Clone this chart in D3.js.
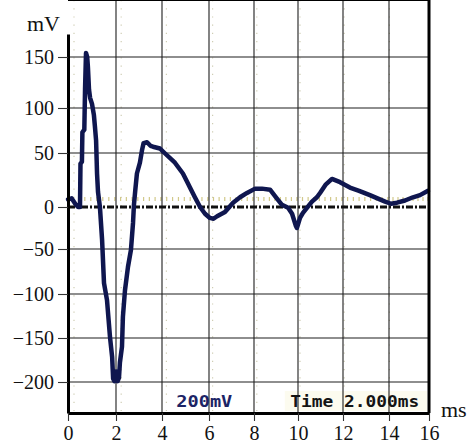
<!DOCTYPE html>
<html>
<head>
<meta charset="utf-8">
<script src="https://cdn.jsdelivr.net/npm/d3@7"></script>
<style>
  body { margin: 0; background: #fff; }
  svg { display: block; }
</style>
</head>
<body>
<script>
/* ---------- data ---------- */
var timeMs = [0, 0.15, 0.3, 0.42, 0.5, 0.52, 0.58, 0.6, 0.68, 0.71, 0.75, 0.8, 0.83, 0.875, 0.92, 1.0,
  1.08, 1.12, 1.17, 1.21, 1.25, 1.33, 1.42, 1.5, 1.625, 1.75, 1.84, 1.88, 1.93, 2.0, 2.07, 2.13,
  2.17, 2.26, 2.3, 2.39, 2.52, 2.65, 2.74, 2.78, 2.84, 2.91, 3.04, 3.13, 3.2, 3.35, 3.5, 3.61,
  3.91, 4.11, 4.55, 4.89, 5.1, 5.19, 5.4, 5.62, 5.83, 6.04, 6.2, 6.36, 6.71, 7.07, 7.38, 7.69,
  8.05, 8.36, 8.73, 9.0, 9.27, 9.55, 9.73, 9.91, 9.95, 10.09, 10.22, 10.62, 10.84, 10.98, 11.24, 11.51,
  11.87, 12.3, 12.7, 13.17, 13.5, 13.83, 14.1, 14.4, 14.8, 15.2, 15.55, 15.95];
var voltage_mV = [7, 8, 3, 0, 0, 40, 42, 73, 76, 118, 154, 150, 140, 118, 110, 104,
  92, 80, 64, 31, 14, 0, -39, -88, -107, -149, -172, -196, -199, -188, -199, -195,
  -178, -160, -126, -96, -70, -51, -19, 2, 16, 31, 41, 53, 61, 62, 58, 57,
  55, 50, 41, 31, 22, 18, 9, 0, -8, -13, -14, -11, -6, 4, 9, 13,
  17, 17, 16, 9, 2, -1, -8, -23, -25, -13, -7, 5, 9, 13, 21, 26,
  23, 18, 15, 11, 8, 5, 3, 4, 6, 9, 11, 15];

var tTicks = [0, 2, 4, 6, 8, 10, 12, 14, 16];
var vTicks = [-200, -150, -100, -50, 0, 50, 100, 150];
var vLimits = [-235, 173];   // bottom / top of the screen

/* ---------- layout ---------- */
var W = 468, H = 443;
// the scanned axes are a little uneven, so the scales follow the printed ticks
var tTickX = [68, 116, 162, 209, 254, 298, 343, 389, 429];
var vTickY = [413, 382, 338, 294, 249, 207, 153, 108, 57, 34];

var x = d3.scaleLinear().domain(tTicks).range(tTickX);
var y = d3.scaleLinear()
  .domain([vLimits[0]].concat(vTicks, [vLimits[1]]))
  .range(vTickY);

var left = x(0), right = x(16), top = y(vLimits[1]), bottom = y(vLimits[0]);

var svg = d3.select("body").append("svg")
  .attr("width", W)
  .attr("height", H);

var serif = "'Liberation Serif', 'Times New Roman', serif";

/* scope graticule: faint dotted lines */
var grat = svg.append("g").attr("stroke", "#cfcdb4").attr("stroke-width", 1.2)
  .attr("stroke-dasharray", "1.2,7");
grat.selectAll("line")
  .data(tTicks.slice(0, 8))
  .enter().append("line")
  .attr("x1", function(d) { return x(d) + 6 - d * 0.4; })
  .attr("x2", function(d) { return x(d) + 6 - d * 0.4; })
  .attr("y1", top + 4)
  .attr("y2", bottom - 2);

// little tick marks riding just above the zero trace line
var minor = d3.range(0.2, 16, 0.25);
svg.append("g").attr("stroke", "#d2c98a").attr("stroke-width", 1.2)
  .selectAll("line")
  .data(minor)
  .enter().append("line")
  .attr("x1", function(d) { return x(d); })
  .attr("x2", function(d) { return x(d); })
  .attr("y1", y(0) - 10)
  .attr("y2", y(0) - 6);

// cream band behind the time/div readout
svg.append("rect")
  .attr("x", x(9.4)).attr("y", bottom - 22)
  .attr("width", right - x(9.4) - 2).attr("height", 20)
  .attr("fill", "#fcfbef");

/* grid */
var grid = svg.append("g").attr("stroke", "#1e1e1e").attr("stroke-width", 1.1);
grid.selectAll("line.v")
  .data(tTicks.filter(function(d) { return d > 0 && d < 16; }))
  .enter().append("line").attr("class", "v")
  .attr("x1", function(d) { return x(d); })
  .attr("x2", function(d) { return x(d); })
  .attr("y1", top).attr("y2", bottom);
grid.selectAll("line.h")
  .data(vTicks.filter(function(d) { return d !== 0; }))
  .enter().append("line").attr("class", "h")
  .attr("x1", left).attr("x2", right)
  .attr("y1", function(d) { return y(d); })
  .attr("y2", function(d) { return y(d); });

// scope zero marker, dash-dot
svg.append("line")
  .attr("x1", left).attr("x2", right)
  .attr("y1", y(0)).attr("y2", y(0))
  .attr("stroke", "#111")
  .attr("stroke-width", 3.2)
  .attr("stroke-dasharray", "7,2,2,2");

/* readout text */
svg.append("text")
  .attr("x", x(5.8)).attr("y", bottom - 6)
  .attr("text-anchor", "middle")
  .attr("font-family", "'DejaVu Sans Mono', monospace")
  .attr("font-weight", "bold")
  .attr("font-size", 15)
  .attr("textLength", 56).attr("lengthAdjust", "spacingAndGlyphs")
  .attr("fill", "#1c2466")
  .text("200mV");
svg.append("text")
  .attr("x", x(9.65)).attr("y", bottom - 6)
  .attr("font-family", "'DejaVu Sans Mono', monospace")
  .attr("font-weight", "bold")
  .attr("font-size", 15)
  .attr("textLength", 129).attr("lengthAdjust", "spacingAndGlyphs")
  .attr("fill", "#141414")
  .text("Time 2.000ms");

/* the trace */
var line = d3.line()
  .x(function(d) { return x(d[0]); })
  .y(function(d) { return y(d[1]); });

svg.append("path")
  .datum(d3.zip(timeMs, voltage_mV))
  .attr("d", line)
  .attr("fill", "none")
  .attr("stroke", "#0f164f")
  .attr("stroke-width", 4.5)
  .attr("stroke-linejoin", "round")
  .attr("stroke-linecap", "round");

/* frame */
svg.append("line").attr("x1", left).attr("x2", right).attr("y1", top).attr("y2", top)
  .attr("stroke", "#000").attr("stroke-width", 2.2);
svg.append("line").attr("x1", right).attr("x2", right).attr("y1", top).attr("y2", bottom)
  .attr("stroke", "#000").attr("stroke-width", 3);

/* axes */
var yAxis = d3.axisLeft(y).tickValues(vTicks).tickSizeInner(10).tickSizeOuter(0).tickPadding(4);
var gy = svg.append("g").attr("transform", "translate(" + left + ",0)").call(yAxis);
var xAxis = d3.axisBottom(x).tickValues(tTicks).tickSizeInner(8).tickSizeOuter(0).tickPadding(5);
var gx = svg.append("g").attr("transform", "translate(0," + bottom + ")").call(xAxis);

[gx, gy].forEach(function(g) {
  g.attr("font-family", serif).attr("font-size", 20);
  g.select(".domain").attr("stroke", "#000").attr("stroke-width", 3);
  g.selectAll(".tick line").attr("stroke", "#333").attr("stroke-width", 1.1);
  g.selectAll("text").attr("fill", "#111");
});

svg.append("text")
  .attr("x", 27).attr("y", 31)
  .attr("font-family", serif).attr("font-size", 22).attr("fill", "#111")
  .text("mV");
svg.append("text")
  .attr("x", 441).attr("y", 417)
  .attr("font-family", serif).attr("font-size", 22).attr("fill", "#111")
  .text("ms");
</script>
</body>
</html>
